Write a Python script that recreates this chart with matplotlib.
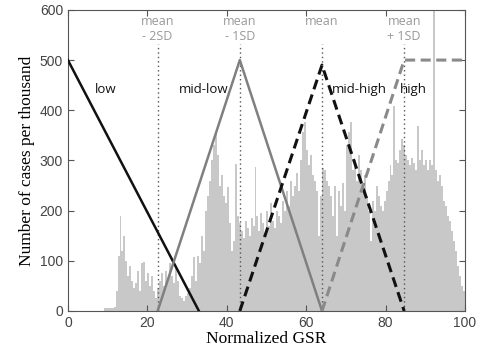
import matplotlib.pyplot as plt
import numpy as np

# histogram of normalized GSR, bins of width 0.5 from 0 to 100
bin_width = 0.5
hist_heights = [
    0, 0, 0, 0, 0, 0, 0, 0, 0, 0, 0, 0, 0, 0, 0, 0, 0, 0,   # 0-9
    5, 5, 5, 5, 6, 8,                                       # 9-12
    40, 110, 190, 120, 150, 100, 70, 90, 60, 45,            # 12-17
    55, 80, 40, 95, 98, 60, 75, 50, 70, 40,                 # 17-22
    25, 45, 60, 75, 50, 80, 65, 95, 70, 55,                 # 22-27
    85, 60, 30, 25, 20, 30, 35, 45, 70, 108,                # 27-32
    60, 110, 95, 150, 120, 200, 230, 260, 300, 330,         # 32-37
    356, 310, 250, 270, 230, 215, 248, 175, 120, 140,       # 37-42
    292, 190, 175, 160, 145, 180, 165, 150, 185, 170,       # 42-47
    286, 190, 160, 195, 175, 150, 200, 170, 215, 180,       # 47-52
    165, 200, 190, 175, 220, 200, 240, 210, 260, 230,       # 52-57
    250, 275, 240, 300, 356, 376, 320, 290, 310, 270,       # 57-62
    260, 240, 150, 230, 285, 280, 260, 250, 230, 190,       # 62-67
    250, 150, 240, 210, 255, 200, 330, 356, 376, 280,       # 67-72
    300, 260, 310, 280, 250, 270, 230, 200, 140, 220,       # 72-77
    200, 250, 230, 210, 200, 220, 240, 260, 290, 270,       # 77-82
    408, 300, 295, 320, 342, 330, 310, 300, 290, 305,       # 82-87
    295, 280, 368, 300, 320, 290, 300, 280, 300, 290,       # 87-92
    650, 280, 260, 270, 250, 220, 210, 190, 180, 160,       # 92-97
    140, 120, 90, 70, 50, 40,                               # 97-100
]
bin_centers = np.arange(len(hist_heights)) * bin_width + bin_width / 2

mean_val = 64.0
sd_val = 20.7
mean_marks = [mean_val - 2 * sd_val, mean_val - sd_val, mean_val, mean_val + sd_val]
mean_labels = ['mean\n- 2SD', 'mean\n- 1SD', 'mean', 'mean\n+ 1SD']

# membership functions (x, y breakpoints)
low_x = [0, 33]
low_y = [500, 0]
midlow_x = [mean_marks[0], mean_marks[1], mean_marks[2]]
midlow_y = [0, 500, 0]
midhigh_x = [mean_marks[1], mean_marks[2], mean_marks[3]]
midhigh_y = [0, 490, 0]
high_x = [mean_marks[2], mean_marks[3], 100]
high_y = [0, 500, 500]

fig = plt.figure(figsize=(4.92, 3.53), dpi=100)
ax = fig.add_axes([0.138, 0.119, 0.807, 0.853])

ax.bar(bin_centers, hist_heights, width=bin_width, color='#c8c8c8', linewidth=0, zorder=1)

for m in mean_marks:
    ax.plot([m, m], [0, 532], color='#555555', linestyle=(0, (1, 2.2)), linewidth=1, zorder=2)
for m, lab in zip(mean_marks, mean_labels):
    ax.text(m, 590, lab, ha='center', va='top', fontsize=9, color='#999999',
            family='Open Sans', linespacing=1.2)

ax.plot(low_x, low_y, color='#111111', linewidth=1.8, zorder=3)
ax.plot(midlow_x, midlow_y, color='#808080', linewidth=1.8, zorder=3)
ax.plot(midhigh_x, midhigh_y, color='#111111', linewidth=2.2, dashes=(3.3, 1.8), zorder=3)
ax.plot(high_x, high_y, color='#8a8a8a', linewidth=2.2, dashes=(3.3, 1.8), zorder=3)

ax.text(6.8, 442, 'low', fontsize=9.5, va='center', color='#111111', family='Open Sans')
ax.text(40.5, 442, 'mid-low', fontsize=9.5, va='center', ha='right', color='#111111', family='Open Sans')
ax.text(66.5, 442, 'mid-high', fontsize=9.5, va='center', color='#111111', family='Open Sans')
ax.text(83.6, 442, 'high', fontsize=9.5, va='center', color='#111111', family='Open Sans')

ax.set_xlim(0, 100)
ax.set_ylim(0, 600)
ax.set_xticks(range(0, 101, 20))
ax.set_yticks(range(0, 601, 100))
ax.tick_params(direction='in', top=True, right=True, length=4, labelsize=10,
               labelcolor='#444444', color='#555555')
for lab in ax.get_xticklabels() + ax.get_yticklabels():
    lab.set_family('Liberation Sans')
for sp in ax.spines.values():
    sp.set_color('#555555')

ax.set_xlabel('Normalized GSR', family='Liberation Serif', fontsize=12.5, labelpad=1)
ax.set_ylabel('Number of cases per thousand', family='Liberation Serif', fontsize=12.5, labelpad=3)

fig.savefig('out.png', dpi=100)
